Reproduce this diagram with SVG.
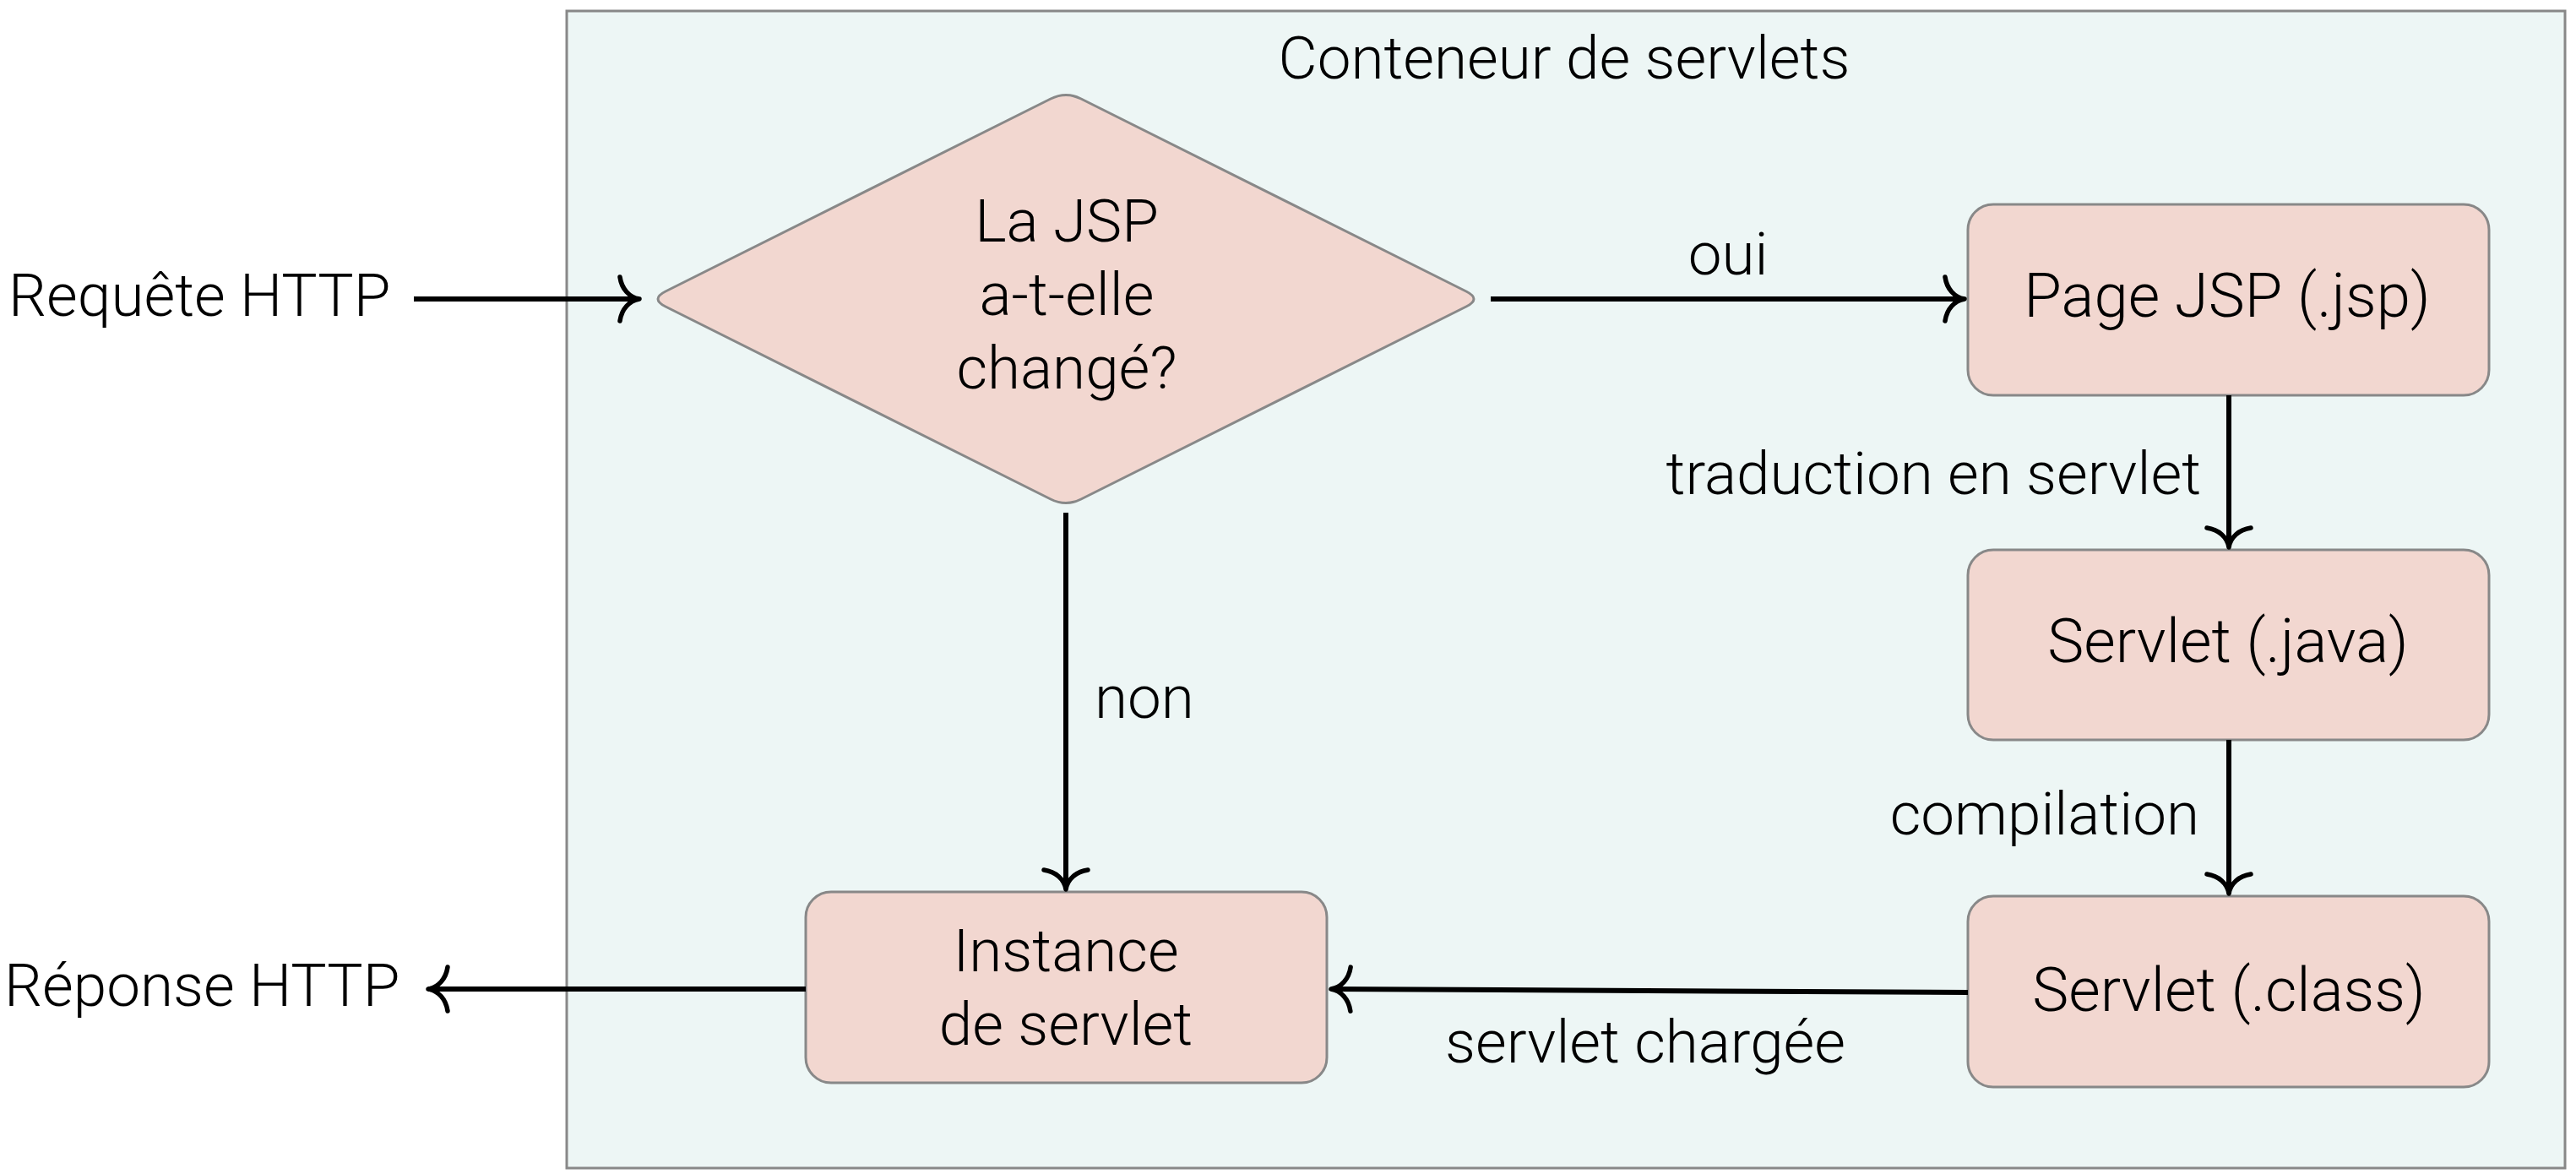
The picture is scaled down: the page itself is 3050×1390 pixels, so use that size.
<svg xmlns="http://www.w3.org/2000/svg" width="3050" height="1390" viewBox="0 0 3050 1390">
<defs>
<style>
text{font-family:Roboto,"Liberation Sans",sans-serif;font-weight:300;font-size:71px;fill:#000}
.node{fill:#F2D7D0;stroke:#888;stroke-width:3}
.edge{fill:none;stroke:#000;stroke-width:6}
.mid{text-anchor:middle}
.big{font-size:72.5px}
</style>
<marker id="arr" viewBox="-30 -32 36 64" refX="0" refY="0" markerWidth="36" markerHeight="64" markerUnits="userSpaceOnUse" orient="auto">
<path d="M-23,-26 C-21,-12 -12,-2 0,0 C-12,2 -21,12 -23,26" fill="none" stroke="#000" stroke-width="5.5" stroke-linecap="round" stroke-linejoin="round"/>
</marker>
</defs>
<rect width="3050" height="1390" fill="#fff"/>
<g id="container">
<rect x="671" y="13" width="2366" height="1370" fill="#EDF6F5" stroke="#888" stroke-width="3"/>
<text x="1852" y="93" class="mid">Conteneur de servlets</text>
</g>
<g id="decision">
<path class="node" d="M1244,117 Q1262,108 1280,117 L1736,345 Q1754,354 1736,363 L1280,591 Q1262,600 1244,591 L788,363 Q770,354 788,345 Z"/>
<text x="1263" y="286" class="mid">La JSP</text>
<text x="1263" y="373" class="mid">a-t-elle</text>
<text x="1263" y="460" class="mid">changé?</text>
</g>
<g id="page-jsp">
<rect class="node" x="2330" y="242" width="617" height="226" rx="30"/>
<text x="2637" y="375" class="mid big">Page JSP (.jsp)</text>
</g>
<g id="servlet-java">
<rect class="node" x="2330" y="651" width="617" height="225" rx="30"/>
<text x="2638" y="784" class="mid big">Servlet (.java)</text>
</g>
<g id="servlet-class">
<rect class="node" x="2330" y="1061" width="617" height="226" rx="30"/>
<text x="2639" y="1197" class="mid big">Servlet (.class)</text>
</g>
<g id="instance">
<rect class="node" x="954" y="1056" width="617" height="226" rx="30"/>
<text x="1262" y="1150" class="mid">Instance</text>
<text x="1262" y="1237" class="mid">de servlet</text>
</g>
<g id="requete">
<text x="10" y="374">Requête HTTP</text>
</g>
<g id="reponse">
<text x="5" y="1191">Réponse HTTP</text>
</g>
<g id="connectors">
<path class="edge" d="M490,354 H757" marker-end="url(#arr)"/>
<path class="edge" d="M1765,354 H2326" marker-end="url(#arr)"/>
<path class="edge" d="M2639,468 V648" marker-end="url(#arr)"/>
<path class="edge" d="M2639,876 V1058" marker-end="url(#arr)"/>
<path class="edge" d="M1262,607 V1053" marker-end="url(#arr)"/>
<path class="edge" d="M2330,1175 L1576,1171" marker-end="url(#arr)"/>
<path class="edge" d="M954,1171 H507" marker-end="url(#arr)"/>
<text x="2046" y="325" class="mid">oui</text>
<text x="2606" y="585" text-anchor="end">traduction en servlet</text>
<text x="2604" y="988" text-anchor="end">compilation</text>
<text x="1296" y="850">non</text>
<text x="1948" y="1258" class="mid">servlet chargée</text>
</g>
</svg>
